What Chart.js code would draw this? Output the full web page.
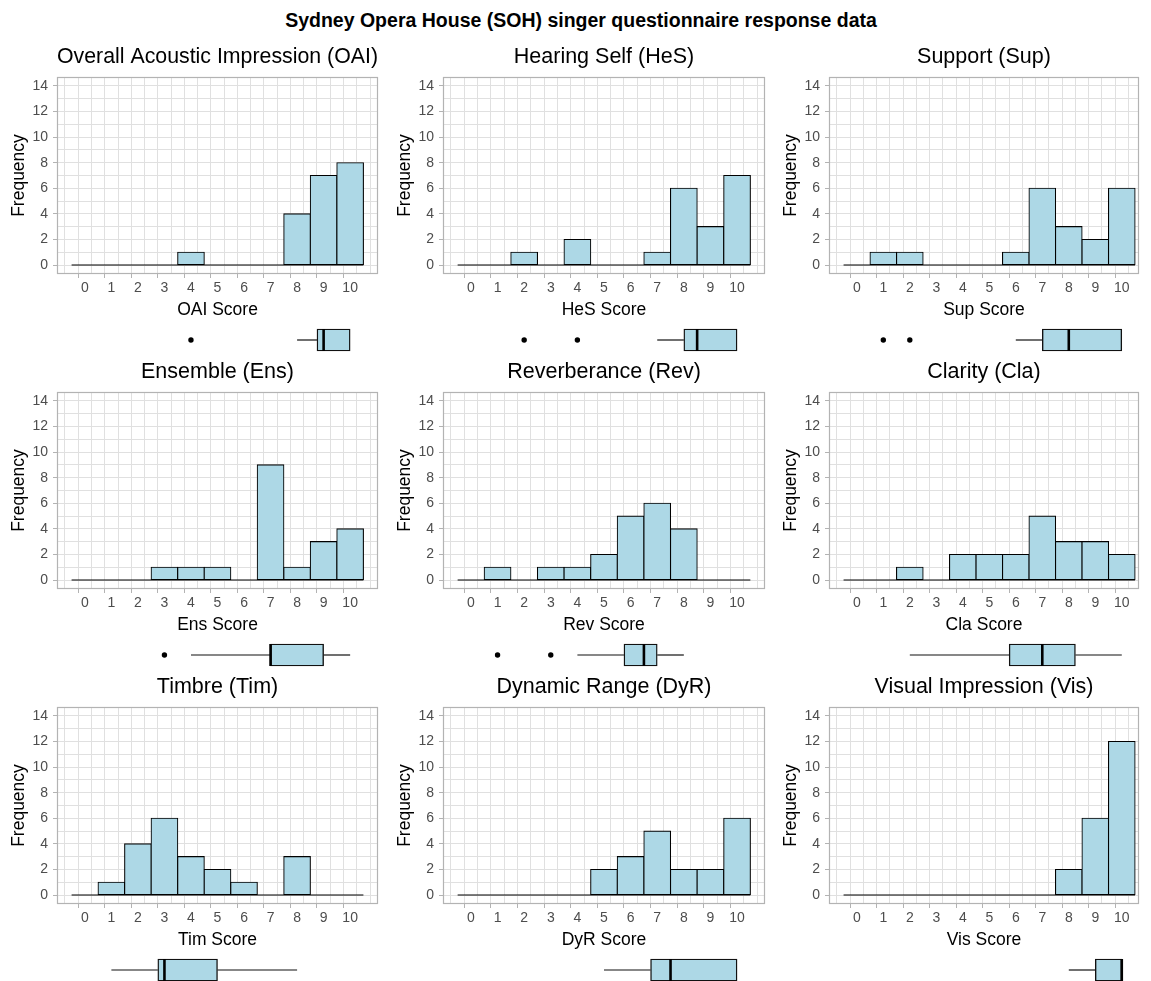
<!DOCTYPE html>
<html>
<head>
<meta charset="utf-8">
<script src="https://cdn.jsdelivr.net/npm/chart.js@4.4.1/dist/chart.umd.min.js"></script>
<style>
html,body{margin:0;padding:0;background:#fff;width:1151px;height:981px;overflow:hidden;position:relative;font-family:'Liberation Sans',Arial,sans-serif;}
#mainTitle{position:absolute;left:0;top:8px;width:1162px;text-align:center;font-weight:bold;font-size:19.5px;line-height:24px;color:#000;white-space:nowrap;}
canvas{position:absolute;}
</style>
</head>
<body>
<div id="mainTitle">Sydney Opera House (SOH) singer questionnaire response data</div>
<script>
// ---------------- data ----------------
const scores = [0, 1, 2, 3, 4, 5, 6, 7, 8, 9, 10];
const xTickLabels = ['0', '1', '2', '3', '4', '5', '6', '7', '8', '9', '10'];
const yTickLabels = [0, 2, 4, 6, 8, 10, 12, 14];

const panelTitles = [
  'Overall Acoustic Impression (OAI)', 'Hearing Self (HeS)', 'Support (Sup)',
  'Ensemble (Ens)', 'Reverberance (Rev)', 'Clarity (Cla)',
  'Timbre (Tim)', 'Dynamic Range (DyR)', 'Visual Impression (Vis)'
];
const axisTitles = [
  'OAI Score', 'HeS Score', 'Sup Score',
  'Ens Score', 'Rev Score', 'Cla Score',
  'Tim Score', 'DyR Score', 'Vis Score'
];

// frequency of each score 0..10
const oaiCounts = [0, 0, 0, 0, 1, 0, 0, 0, 4, 7, 8];
const hesCounts = [0, 0, 1, 0, 2, 0, 0, 1, 6, 3, 7];
const supCounts = [0, 1, 1, 0, 0, 0, 1, 6, 3, 2, 6];
const ensCounts = [0, 0, 0, 1, 1, 1, 0, 9, 1, 3, 4];
const revCounts = [0, 1, 0, 1, 1, 2, 5, 6, 4, 0, 0];
const claCounts = [0, 0, 1, 0, 2, 2, 2, 5, 3, 3, 2];
const timCounts = [0, 1, 4, 6, 3, 2, 1, 0, 3, 0, 0];
const dyrCounts = [0, 0, 0, 0, 0, 2, 3, 5, 2, 2, 6];
const visCounts = [0, 0, 0, 0, 0, 0, 0, 0, 2, 6, 12];

const allCounts = [oaiCounts, hesCounts, supCounts, ensCounts, revCounts, claCounts, timCounts, dyrCounts, visCounts];

// ---------------- layout / style ----------------
const FONT = "'Liberation Sans', Arial, sans-serif";
const FILL = '#ADD8E6';
const canvasLeft = [0, 386, 772];
const panelWidth = [321, 322, 310];
const xMaxByCol = [11.05, 11.05, 10.65];
const xMin = -1.05;
const panelTop = [77, 392, 707];
const PANEL_H = 197;
const YAXIS_W = 57;
const XAXIS_H = 50;
const TOP_H = 38;
const RIGHT_PAD = 3;
const BOX_TOP_OFFSET = 52;
const BOX_H = 28;
const BOX_THICK = 22;

Chart.defaults.font.family = FONT;
Chart.defaults.animation = false;

const panelBorder = {
  id: 'panelBorder',
  afterDraw(chart) {
    const a = chart.chartArea;
    const ctx = chart.ctx;
    ctx.save();
    ctx.strokeStyle = '#b3b3b3';
    ctx.lineWidth = 1.2;
    const l = Math.round(a.left) + 0.5, t = Math.round(a.top) + 0.5;
    const r = Math.round(a.right) - 0.5, b = Math.round(a.bottom) - 0.5;
    ctx.strokeRect(l, t, r - l, b - t);
    ctx.restore();
  }
};

function halfSteps() {
  const out = [];
  for (let k = 0; k < scores.length; k++) {
    out.push(scores[k] - 0.5);
    out.push(scores[k]);
  }
  out.push(scores[scores.length - 1] + 0.5);
  return out;
}
function unitSteps() {
  const out = [];
  for (let v = yTickLabels[0]; v <= yTickLabels[yTickLabels.length - 1]; v++) out.push(v);
  return out;
}

function boxStats(counts) {
  const vals = [];
  counts.forEach((n, k) => { for (let j = 0; j < n; j++) vals.push(scores[k]); });
  vals.sort((a, b) => a - b);
  const q = p => {
    const h = (vals.length - 1) * p;
    const lo = Math.floor(h);
    const hi = Math.min(lo + 1, vals.length - 1);
    return vals[lo] + (h - lo) * (vals[hi] - vals[lo]);
  };
  const q1 = q(0.25), med = q(0.5), q3 = q(0.75), iqr = q3 - q1;
  const lf = q1 - 1.5 * iqr, uf = q3 + 1.5 * iqr;
  const inside = vals.filter(v => v >= lf && v <= uf);
  const out = [...new Set(vals.filter(v => v < lf || v > uf))];
  return { q1, med, q3, lo: Math.min(...inside), hi: Math.max(...inside), out };
}

function addCanvas(left, top, w, h) {
  const cv = document.createElement('canvas');
  cv.width = w; cv.height = h;
  cv.style.left = left + 'px'; cv.style.top = top + 'px';
  cv.style.width = w + 'px'; cv.style.height = h + 'px';
  document.body.appendChild(cv);
  return cv;
}

function makeCell(i) {
  const c = i % 3, r = Math.floor(i / 3);
  const counts = allCounts[i];
  const W = YAXIS_W + panelWidth[c] + RIGHT_PAD;
  const H = TOP_H + PANEL_H + XAXIS_H;
  const left = canvasLeft[c];
  const top = panelTop[r] - TOP_H;
  const xMax = xMaxByCol[c];
  const binLo = scores[0] - 0.5, binHi = scores[scores.length - 1] + 0.5;

  const cv = addCanvas(left, top, W, H);
  new Chart(cv, {
    type: 'bar',
    data: {
      datasets: [
        {
          type: 'line',
          data: [{ x: binLo, y: 0 }, { x: binHi, y: 0 }],
          borderColor: '#000', borderWidth: 1.1, pointRadius: 0, fill: false, order: 0
        },
        {
          type: 'bar',
          data: scores.map((s, k) => ({ x: s, y: counts[k] })),
          backgroundColor: FILL, borderColor: '#000', borderWidth: 1.1,
          borderSkipped: false, inflateAmount: 0.55,
          barThickness: 'flex', barPercentage: 1, categoryPercentage: 1, order: 1
        }
      ]
    },
    options: {
      responsive: false,
      devicePixelRatio: 1,
      animation: false,
      layout: { autoPadding: false, padding: { left: 0, right: RIGHT_PAD, top: 0, bottom: 0 } },
      plugins: {
        legend: { display: false },
        tooltip: { enabled: false },
        title: {
          display: true, text: panelTitles[i], fullSize: false,
          color: '#000', font: { size: 21.5, weight: 'normal', lineHeight: 1.2 },
          padding: { top: 5, bottom: 7.2 }
        }
      },
      scales: {
        x: {
          type: 'linear', min: xMin, max: xMax, offset: false,
          afterBuildTicks: s => { s.ticks = halfSteps().map(v => ({ value: v })); },
          afterFit: s => { s.height = XAXIS_H; },
          ticks: {
            autoSkip: false, maxRotation: 0, minRotation: 0, padding: 2,
            color: '#4d4d4d', font: { size: 14 },
            callback: v => (Number.isInteger(v) ? xTickLabels[scores.indexOf(v)] : '')
          },
          grid: {
            color: '#e0e0e0', lineWidth: 1, drawTicks: true, tickLength: 4,
            tickColor: ctx => (ctx.tick && Number.isInteger(ctx.tick.value) ? '#b3b3b3' : 'rgba(0,0,0,0)')
          },
          border: { display: false },
          title: {
            display: true, text: axisTitles[i], color: '#000',
            font: { size: 17.5, lineHeight: 1.2 }, padding: { top: 0, bottom: 3.5 }
          }
        },
        y: {
          type: 'linear', min: -0.7, max: 14.7,
          afterBuildTicks: s => { s.ticks = unitSteps().map(v => ({ value: v })); },
          afterFit: s => { s.width = YAXIS_W; },
          ticks: {
            autoSkip: false, padding: 5, color: '#4d4d4d', font: { size: 14 },
            callback: v => (yTickLabels.includes(v) ? String(v) : '')
          },
          grid: {
            color: '#e0e0e0', lineWidth: 1, drawTicks: true, tickLength: 4,
            tickColor: ctx => (ctx.tick && yTickLabels.includes(ctx.tick.value) ? '#b3b3b3' : 'rgba(0,0,0,0)')
          },
          border: { display: false },
          title: {
            display: true, text: 'Frequency', color: '#000',
            font: { size: 17.5, lineHeight: 1.2 }, padding: { top: 9, bottom: 0 }
          }
        }
      }
    },
    plugins: [panelBorder]
  });

  // ---- boxplot under the histogram ----
  const st = boxStats(counts);
  const half = (BOX_THICK / 2) / (BOX_H / 2);
  const bcv = addCanvas(left, panelTop[r] + PANEL_H + BOX_TOP_OFFSET, W, BOX_H);
  new Chart(bcv, {
    type: 'bar',
    data: {
      datasets: [
        { type: 'line', data: [{ x: st.lo, y: 0 }, { x: st.q1, y: 0 }], borderColor: '#111', borderWidth: 1.2, pointRadius: 0, order: 5 },
        { type: 'line', data: [{ x: st.q3, y: 0 }, { x: st.hi, y: 0 }], borderColor: '#111', borderWidth: 1.2, pointRadius: 0, order: 5 },
        {
          type: 'bar', indexAxis: 'y', data: [{ x: [st.q1, st.q3], y: 0 }],
          backgroundColor: FILL, borderColor: '#111', borderWidth: 1.4, borderSkipped: false,
          barThickness: BOX_THICK, order: 4
        },
        { type: 'line', data: [{ x: st.med, y: -half }, { x: st.med, y: half }], borderColor: '#000', borderWidth: 2.6, pointRadius: 0, order: 3 },
        {
          type: 'scatter', data: st.out.map(v => ({ x: v, y: 0 })),
          pointRadius: 2.7, pointBackgroundColor: '#000', pointBorderWidth: 0, showLine: false, order: 2
        }
      ]
    },
    options: {
      responsive: false,
      devicePixelRatio: 1,
      animation: false,
      layout: { autoPadding: false, padding: { left: YAXIS_W, right: RIGHT_PAD, top: 0, bottom: 0 } },
      plugins: { legend: { display: false }, tooltip: { enabled: false }, title: { display: false } },
      scales: {
        x: { type: 'linear', min: xMin, max: xMax, display: false, offset: false },
        y: { type: 'linear', min: -1, max: 1, display: false, offset: false }
      }
    }
  });
}

for (let i = 0; i < 9; i++) makeCell(i);
</script>
</body>
</html>
